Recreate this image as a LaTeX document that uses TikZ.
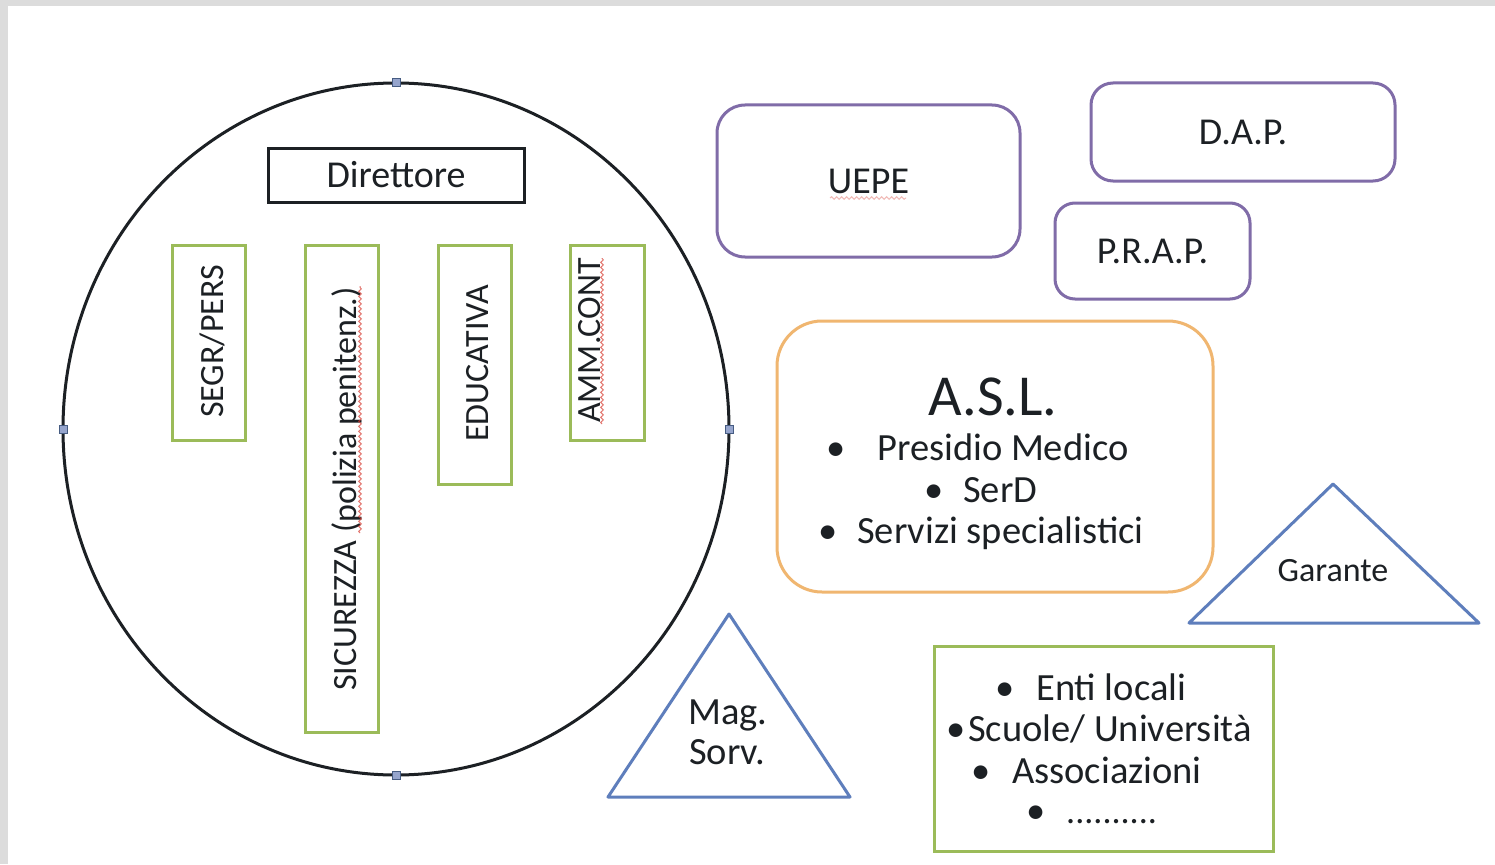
\documentclass[tikz,border=0pt]{standalone}
\usepackage{fontspec}
\setmainfont{Carlito}
\usetikzlibrary{shapes.geometric,decorations.pathmorphing}

\definecolor{ink}{RGB}{28,32,36}
\definecolor{framegray}{RGB}{220,220,220}
\definecolor{boxgreen}{RGB}{155,187,89}
\definecolor{boxpurple}{RGB}{128,108,168}
\definecolor{boxorange}{RGB}{240,182,112}
\definecolor{triblue}{RGB}{94,126,188}
\definecolor{handlefill}{RGB}{150,165,205}
\definecolor{handleedge}{RGB}{70,92,130}
\definecolor{spellred}{RGB}{215,60,50}

\begin{document}
\begin{tikzpicture}[x=1pt,y=-1pt,
  lbl/.style={font=\fontsize{38.5}{45}\selectfont, text=ink, inner sep=0pt},
  vlbl/.style={font=\fontsize{34}{40}\selectfont, text=ink, inner sep=0pt, rotate=90, anchor=base},
  bigbox/.style={draw=ink, line width=3pt, fill=white, inner sep=0pt, outer sep=0pt},
  greenbox/.style={draw=boxgreen, line width=3pt, fill=white, inner sep=0pt, outer sep=0pt},
  purplebox/.style={draw=boxpurple, line width=3pt, fill=white, inner sep=0pt, outer sep=0pt,
    font=\fontsize{38}{45}\selectfont, text=ink},
  orangebox/.style={draw=boxorange, line width=3pt, fill=white, inner sep=0pt, outer sep=0pt,
    rounded corners=45pt},
  tri/.style={draw=triblue, line width=3pt, line join=round},
  handle/.style={draw=handleedge, fill=handlefill, line width=1pt, minimum size=8pt,
    inner sep=0pt, outer sep=0pt},
  spell/.style={draw=spellred, draw opacity=0.7, line width=1pt, decorate,
    decoration={snake, amplitude=1.3pt, segment length=5pt}}]

\useasboundingbox (0,0) rectangle (1495,864);
% page frame
\fill[framegray] (0,0) rectangle (1495,864);
\fill[white] (8,6) rectangle (1495,864);

% the institute: ellipse with its offices
\node[draw=ink, line width=3pt, ellipse, minimum width=666pt, minimum height=692pt,
      inner sep=0pt, outer sep=0pt] (istituto) at (396,429) {};
\foreach \a in {north,south,east,west}
  \node[handle] (h-\a) at (istituto.\a) {};

\node[bigbox, minimum width=256pt, minimum height=54pt,
      font=\fontsize{38}{45}\selectfont, text=ink] (direttore) at (396,175) {Direttore};

\node[greenbox, minimum width=73pt, minimum height=195pt] (segr) at (208.5,342.5) {};
\node[greenbox, minimum width=73pt, minimum height=487pt] (sicur) at (341.5,488.5) {};
\node[greenbox, minimum width=73pt, minimum height=239pt] (educ) at (474.5,364.5) {};
\node[greenbox, minimum width=74pt, minimum height=195pt] (amm) at (607,342.5) {};

\node[vlbl] (segr-t) at (223,341.5) {SEGR/PERS};
\node[vlbl] (sicur-t) at (356,489) {SICUREZZA (polizia penitenz.)};
\node[vlbl] (educ-t) at (488,363.5) {EDUCATIVA};
\node[vlbl] (amm-t) at (600,340.5) {AMM.CONT};

% spelling marks under the rotated words
\coordinate (sp1a) at (360,533);
\coordinate (sp1b) at (360,286);
\coordinate (sp2a) at (602,424);
\coordinate (sp2b) at (602,258);
\draw[spell] (sp1a) -- (sp1b);
\draw[spell] (sp2a) -- (sp2b);

% external offices
\node[purplebox, rounded corners=28pt, minimum width=303pt, minimum height=152pt]
      (uepe) at (868.5,181) {UEPE};
\node[purplebox, rounded corners=22pt, minimum width=304pt, minimum height=98pt]
      (dap) at (1243,132) {D.A.P.};
\node[purplebox, rounded corners=20pt, minimum width=195pt, minimum height=96pt]
      (prap) at (1152.5,251) {P.R.A.P.};

\coordinate (sp3a) at (830,198);
\coordinate (sp3b) at (906,198);
\draw[spell, draw opacity=0.35] (sp3a) -- (sp3b);

% health services
\node[orangebox, minimum width=436pt, minimum height=271pt] (asl) at (995,456.5) {};
\node[font=\fontsize{58}{64}\selectfont, text=ink, inner sep=0pt, anchor=base]
      (asl-t) at (993,415) {A.S.L.};
\node[lbl, anchor=base] (b1) at (836,460) {•};
\node[lbl, anchor=base west] (asl-1) at (877,460) {Presidio Medico};
\node[lbl, anchor=base] (b2) at (934,502) {•};
\node[lbl, anchor=base west] (asl-2) at (963,502) {SerD};
\node[lbl, anchor=base] (b3) at (828,543) {•};
\node[lbl, anchor=base west] (asl-3) at (857,543) {Servizi specialistici};

% guarantor and supervising judge
\coordinate (gA) at (1333,484);
\coordinate (gB) at (1479,623);
\coordinate (gC) at (1189,623);
\draw[tri] (gA) -- (gB) -- (gC) -- cycle;
\node[font=\fontsize{34}{40}\selectfont, text=ink, inner sep=0pt, anchor=base]
      (garante) at (1333,581) {Garante};

\coordinate (mA) at (729,614);
\coordinate (mB) at (850,797);
\coordinate (mC) at (608,797);
\draw[tri] (mA) -- (mB) -- (mC) -- cycle;
\node[lbl, anchor=base] (mag) at (728,724) {Mag.};
\node[lbl, anchor=base] (sorv) at (727,764) {Sorv.};

% local network
\node[greenbox, minimum width=339pt, minimum height=205pt] (rete) at (1103.5,748.5) {};
\node[lbl, anchor=base] (c1) at (1005,700) {•};
\node[lbl, anchor=base west] (rete-1) at (1036,700) {Enti locali};
\node[lbl, anchor=base] (c2) at (956,741) {•};
\node[lbl, anchor=base west] (rete-2) at (968,741) {Scuole/ Università};
\node[lbl, anchor=base] (c3) at (981,783) {•};
\node[lbl, anchor=base west] (rete-3) at (1012,783) {Associazioni};
\node[lbl, anchor=base] (c4) at (1036,823) {•};
\node[lbl, anchor=base west, font=\fontsize{36}{43}\selectfont] (rete-4) at (1066,823) {..........};
\end{tikzpicture}
\end{document}
